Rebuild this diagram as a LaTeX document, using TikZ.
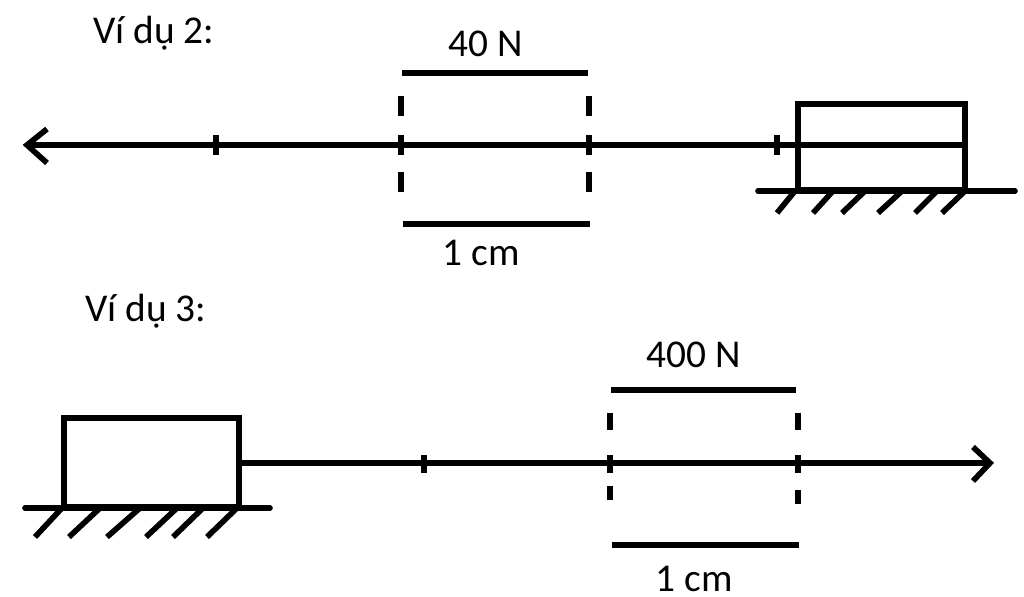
\documentclass[tikz,border=0pt]{standalone}
\usepackage{fontspec}
\setmainfont{Carlito}
\tikzset{
  thickline/.style={line width=1.6pt},
  groundline/.style={line width=1.6pt,line cap=round},
  label/.style={font=\fontsize{11.2}{13}\selectfont,inner sep=0pt}
}
\begin{document}
\begin{tikzpicture}[x=0.01cm,y=-0.01cm]
\useasboundingbox (0,0) rectangle (1024,597);
% first example
\node[label] (title2) at (154,33) {Ví dụ 2:};
\node[label] (force2) at (486,44) {40 N};
\node[label] (unit2) at (481,253) {1 cm};
\draw[thickline] (798,104) rectangle (965,190);
\draw[groundline] (758,191) -- (1015,191);
\draw[thickline] (965,145) -- (27,145);
\draw[thickline] (47,129) -- (27,145) -- (47,163);
\foreach \x in {216,401,589,777}
  \draw[thickline] (\x,135) -- (\x,155);
\foreach \x in {401,589} {
  \draw[thickline] (\x,96) -- (\x,116);
  \draw[thickline] (\x,172) -- (\x,192);
}
\draw[thickline] (402,73) -- (588,73);
\draw[thickline] (403,224) -- (590,224);
\foreach \a/\b in {795/777,833/813,865/842,902/878,937/915,965/942}
  \draw[thickline] (\a,191) -- (\b,213);
% second example
\node[label] (title3) at (146,311) {Ví dụ 3:};
\node[label] (force3) at (694,355) {400 N};
\node[label] (unit3) at (694,579) {1 cm};
\draw[thickline] (64,418) rectangle (239,507);
\draw[groundline] (25,508) -- (270,508);
\draw[thickline] (239,463) -- (990,463);
\draw[thickline] (973,447) -- (990,463) -- (973,481);
\foreach \x in {424,610,798}
  \draw[thickline] (\x,455) -- (\x,473);
\foreach \x/\y in {610/486,798/490} {
  \draw[thickline] (\x,413) -- (\x,430);
  \draw[thickline] (\x,\y) -- (\x,\y+14);
}
\draw[thickline] (611,390) -- (796,390);
\draw[thickline] (612,545) -- (799,545);
\foreach \a/\b in {62/35,100/69,140/107,177/146,203/173,237/207}
  \draw[thickline] (\a,508) -- (\b,537);
\end{tikzpicture}
\end{document}
